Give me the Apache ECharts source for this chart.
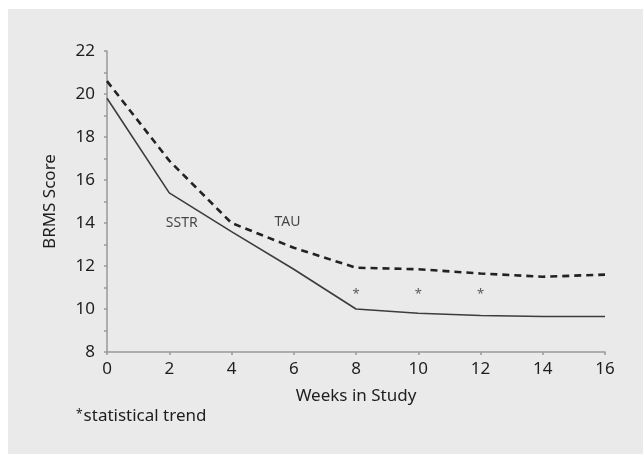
<!DOCTYPE html>
<html>
<head>
<meta charset="utf-8">
<script src="https://cdn.jsdelivr.net/npm/echarts@6/dist/echarts.min.js"></script>
<style>
html,body{margin:0;padding:0;background:#fff;}
#c{width:643px;height:454px;}
</style>
</head>
<body>
<div id="c"></div>
<script>
var weeks = [0, 2, 4, 6, 8, 10, 12, 14, 16];
var sstr = [19.8, 15.4, 13.6, 11.85, 10.0, 9.8, 9.7, 9.65, 9.65];
var tau = [20.6, 16.9, 14.0, 12.85, 11.92, 11.85, 11.65, 11.5, 11.6];
var trendWeeks = [8, 10, 12];
var trendMarkY = [10.7, 10.7, 10.7];
var seriesLabels = [
  {name: 'SSTR', x: 2.4, y: 14.0},
  {name: 'TAU', x: 5.8, y: 14.05}
];
var xTicks = [0, 2, 4, 6, 8, 10, 12, 14, 16];
var yTicks = [8, 10, 12, 14, 16, 18, 20, 22];

var FONT = "'Noto Sans', sans-serif";

function pairs(xs, ys) { return xs.map(function (x, i) { return [x, ys[i]]; }); }

var chart = echarts.init(document.getElementById('c'), null, {renderer: 'canvas'});
chart.setOption({
  backgroundColor: '#ffffff',
  animation: false,
  graphic: [
    {type: 'rect', left: 8, top: 9, z: -10, shape: {width: 635, height: 445}, style: {fill: '#eaeaea'}},
    {type: 'text', left: 76, top: 408, style: {
      text: '{s|*}statistical trend',
      rich: {s: {fontSize: 12, verticalAlign: 'top', fontFamily: FONT, fill: '#1e1e1e', padding: [1, 1, 0, 0]}},
      fontSize: 17, fontFamily: FONT, fill: '#1e1e1e'
    }}
  ],
  grid: {left: 107, right: 38, top: 51, bottom: 102},
  xAxis: {
    type: 'value', min: 0, max: 16, interval: 2,
    name: 'Weeks in Study', nameLocation: 'middle', nameGap: 36,
    nameTextStyle: {fontSize: 17, fontFamily: FONT, color: '#1e1e1e'},
    axisLine: {lineStyle: {color: '#999', width: 1.5}},
    axisTick: {show: true, length: 3, lineStyle: {color: '#999', width: 1.5}},
    axisLabel: {fontSize: 17, fontFamily: FONT, color: '#1e1e1e', margin: 9,
      formatter: function (v) { return xTicks.indexOf(v) >= 0 ? String(v) : ''; }},
    splitLine: {show: false}
  },
  yAxis: {
    type: 'value', min: 8, max: 22, interval: 1,
    name: 'BRMS Score', nameLocation: 'middle', nameGap: 48,
    nameTextStyle: {fontSize: 17, fontFamily: FONT, color: '#1e1e1e'},
    axisLine: {show: true, lineStyle: {color: '#999', width: 1.5}},
    axisTick: {show: true, length: 3, lineStyle: {color: '#999', width: 1.5}},
    axisLabel: {fontSize: 17, fontFamily: FONT, color: '#1e1e1e', margin: 12,
      formatter: function (v) { return yTicks.indexOf(v) >= 0 ? String(v) : ''; }},
    splitLine: {show: false}
  },
  series: [
    {
      name: 'SSTR', type: 'line', data: pairs(weeks, sstr), symbol: 'none',
      lineStyle: {color: '#3c3c3c', width: 1.6}
    },
    {
      name: 'TAU', type: 'line', data: pairs(weeks, tau), symbol: 'none',
      lineStyle: {color: '#222', width: 2.6, type: [7, 5]}
    },
    {
      name: 'trend', type: 'scatter', data: pairs(trendWeeks, trendMarkY),
      symbol: 'circle', symbolSize: 1, itemStyle: {color: 'rgba(0,0,0,0)'},
      label: {show: true, position: 'inside', formatter: '*', fontSize: 13, fontFamily: FONT, color: '#333'}
    },
    {
      name: 'labels', type: 'scatter',
      data: seriesLabels.map(function (d) { return {value: [d.x, d.y], name: d.name}; }),
      symbol: 'circle', symbolSize: 1, itemStyle: {color: 'rgba(0,0,0,0)'},
      label: {show: true, position: 'inside', formatter: '{b}', fontSize: 14, fontFamily: FONT, color: '#1a1a1a'}
    }
  ]
});
</script>
</body>
</html>
